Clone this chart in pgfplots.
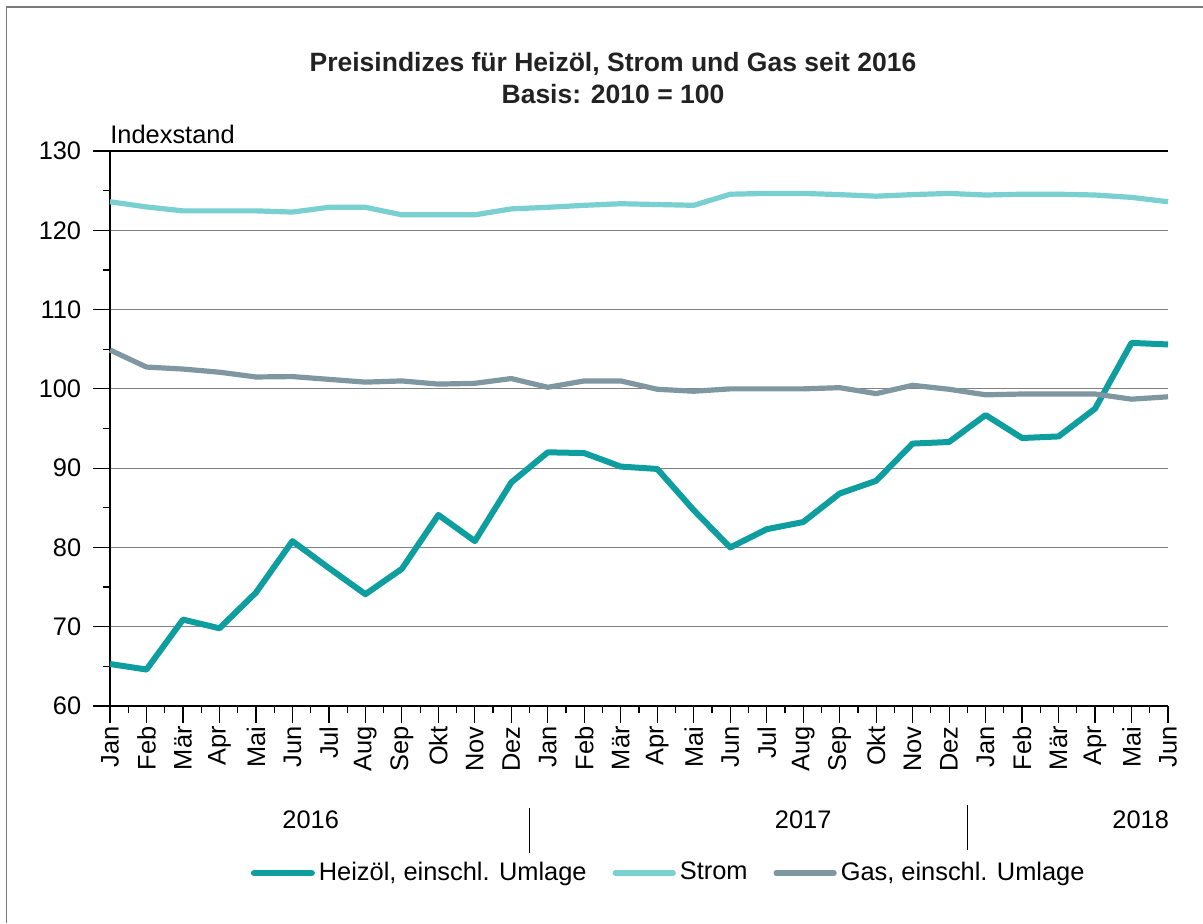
\documentclass[border=0pt]{standalone}
\usepackage{pgfplots}
\pgfplotsset{compat=1.18}
\usepackage{fontspec}
\setmainfont{Liberation Sans}
\definecolor{heiz}{HTML}{0E9E9F}
\definecolor{strom}{HTML}{7ACFD1}
\definecolor{gas}{HTML}{7F97A1}
\definecolor{gridgray}{HTML}{808080}
\definecolor{framegray}{HTML}{7A7A7A}
\definecolor{titlec}{HTML}{222222}
\newcommand{\fs}{\fontsize{12.7}{15.2}\selectfont}
\begin{document}
\fs
\begin{tikzpicture}
\path[use as bounding box] (0,0) rectangle (601.5pt,461.5pt);
\draw[framegray,line width=0.8pt] (3.3pt,0) -- (3.3pt,458pt) -- (601.5pt,458pt);
\begin{axis}[
  at={(55pt,108.5pt)}, anchor=south west,
  width=529pt, height=277.5pt, scale only axis,
  xmin=0, xmax=29, ymin=60, ymax=130,
  axis x line*=bottom, axis y line*=left,
  axis line style={-,black,line width=0.6pt},
  tick style={black,line width=0.6pt},
  tick align=outside,
  major tick length=8.5pt, minor tick length=3.5pt,
  xtick={0,...,29},
  xticklabels={Jan,Feb,Mär,Apr,Mai,Jun,Jul,Aug,Sep,Okt,Nov,Dez,Jan,Feb,Mär,Apr,Mai,Jun,Jul,Aug,Sep,Okt,Nov,Dez,Jan,Feb,Mär,Apr,Mai,Jun},
  minor x tick num=1,
  ytick={60,70,...,130}, minor y tick num=1,
  xticklabel style={rotate=90,anchor=east,inner sep=1.5pt,font=\fs},
  yticklabel style={xshift=-1.5pt,font=\fs},
  /pgf/number format/assume math mode=true,
  ymajorgrids, grid style={gridgray,line width=0.6pt},
  clip=false,
  legend columns=3,
  legend style={at={(0.529,0)},anchor=center,yshift=-83.5pt,draw=none,fill=none,
    font=\fs,
    /tikz/every even column/.append style={column sep=11pt}},
  legend image code/.code={\draw[#1,line cap=round] (0pt,0pt) -- (29pt,0pt);},
  every axis plot/.append style={line join=round},
]
\addplot[heiz,line width=3pt] coordinates {
(0,65.3) (1,64.6) (2,70.9) (3,69.8) (4,74.3) (5,80.8) (6,77.4) (7,74.1) (8,77.3) (9,84.1) (10,80.8) (11,88.2)
(12,92.0) (13,91.9) (14,90.2) (15,89.9) (16,84.7) (17,80.0) (18,82.3) (19,83.2) (20,86.8) (21,88.4) (22,93.1) (23,93.3)
(24,96.7) (25,93.8) (26,94.0) (27,97.5) (28,105.8) (29,105.6)};
\addlegendentry{Heizöl, einschl. Umlage}
\addplot[strom,line width=2.6pt] coordinates {
(0,123.6) (1,122.95) (2,122.45) (3,122.45) (4,122.45) (5,122.3) (6,122.9) (7,122.9) (8,121.95) (9,121.95) (10,121.95) (11,122.7)
(12,122.9) (13,123.15) (14,123.35) (15,123.25) (16,123.15) (17,124.55) (18,124.65) (19,124.65) (20,124.5) (21,124.3) (22,124.5) (23,124.65)
(24,124.45) (25,124.55) (26,124.55) (27,124.45) (28,124.15) (29,123.6)};
\addlegendentry{Strom}
\addplot[gas,line width=2.6pt] coordinates {
(0,104.9) (1,102.75) (2,102.5) (3,102.1) (4,101.5) (5,101.55) (6,101.2) (7,100.85) (8,101.0) (9,100.6) (10,100.7) (11,101.3)
(12,100.2) (13,101.0) (14,101.0) (15,99.95) (16,99.7) (17,100.0) (18,100.0) (19,100.0) (20,100.15) (21,99.4) (22,100.45) (23,99.95)
(24,99.25) (25,99.35) (26,99.35) (27,99.35) (28,98.7) (29,99.0)};
\addlegendentry{Gas, einschl. Umlage}
\draw[black,line width=0.6pt] (rel axis cs:0,1) -- (rel axis cs:1,1);
\node[anchor=base west,inner sep=0pt] at ([yshift=4pt]rel axis cs:0,1) {Indexstand};
\node at ([yshift=-57pt]axis cs:5.5,60) {2016};
\node at ([yshift=-57pt]axis cs:19.0,60) {2017};
\node at ([yshift=-57pt]axis cs:28.25,60) {2018};
\draw[black,line width=0.8pt] ([yshift=-51pt]axis cs:11.5,60) -- ([yshift=-73.5pt]axis cs:11.5,60);
\draw[black,line width=0.8pt] ([yshift=-49.5pt]axis cs:23.5,60) -- ([yshift=-72pt]axis cs:23.5,60);
\end{axis}
\node[align=center,text=titlec,font=\bfseries\fontsize{13.25}{16}\selectfont] at (306.5pt,422.5pt) {Preisindizes für Heizöl, Strom und Gas seit 2016\\Basis: 2010 = 100};
\end{tikzpicture}
\end{document}
